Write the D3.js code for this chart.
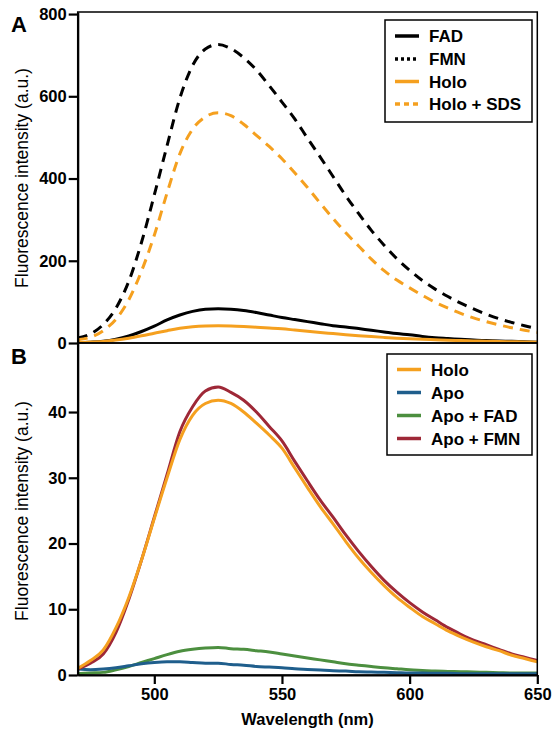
<!DOCTYPE html>
<html>
<head>
<meta charset="utf-8">
<script src="https://cdn.jsdelivr.net/npm/d3@7"></script>
<style>
  body { margin: 0; background: #fff; }
  svg { font-family: "Liberation Sans", Arial, sans-serif; }
  .axis text { font-size: 16.5px; font-weight: bold; fill: #000; }
  .axis path, .axis line { stroke: #000; stroke-width: 2.2px; }
</style>
</head>
<body>
<div id="chart"></div>
<script>
// wavelengths (nm), 5 nm steps
const wavelength = d3.range(470, 651, 5);

// panel A
const fad = [1, 2, 4, 9, 17, 28, 41, 56, 68, 77, 82, 83, 82, 79, 74, 68, 62, 57, 52, 47, 42, 39, 35, 31, 27, 23, 20, 16, 13, 11, 9, 7, 6, 5, 4, 3, 2];
const fmn = [12, 22, 45, 85, 150, 245, 360, 480, 595, 675, 715, 726, 716, 694, 664, 626, 586, 545, 498, 452, 405, 358, 315, 274, 238, 205, 177, 152, 131, 113, 97, 83, 70, 59, 50, 42, 35];
const holoSds = [8, 14, 30, 58, 105, 175, 262, 365, 460, 520, 550, 560, 553, 532, 505, 478, 448, 414, 378, 340, 303, 268, 236, 204, 176, 153, 134, 116, 99, 85, 72, 61, 52, 44, 37, 31, 26];

// panel B
const holo = [1.0, 2.2, 3.8, 7.2, 11.8, 17.5, 23.8, 30.0, 35.8, 39.5, 41.3, 41.8, 41.3, 40.0, 38.3, 36.5, 34.5, 31.5, 28.5, 25.6, 23.0, 20.3, 17.8, 15.6, 13.6, 11.8, 10.3, 8.9, 7.8, 6.7, 5.8, 5.0, 4.3, 3.7, 3.0, 2.5, 2.0];
const apo = [0.9, 0.8, 0.9, 1.1, 1.4, 1.7, 1.9, 2.0, 2.0, 1.9, 1.8, 1.8, 1.6, 1.5, 1.3, 1.2, 1.1, 0.95, 0.85, 0.75, 0.65, 0.6, 0.5, 0.45, 0.4, 0.35, 0.3, 0.3, 0.25, 0.25, 0.2, 0.2, 0.2, 0.2, 0.2, 0.2, 0.2];
const apoFad = [0.2, 0.3, 0.4, 0.8, 1.3, 1.9, 2.5, 3.1, 3.6, 3.9, 4.1, 4.2, 4.0, 3.9, 3.7, 3.5, 3.2, 2.9, 2.6, 2.3, 2.0, 1.7, 1.5, 1.3, 1.1, 0.95, 0.8, 0.7, 0.6, 0.55, 0.5, 0.45, 0.4, 0.35, 0.3, 0.3, 0.3];
const apoFmn = [0.9, 1.8, 3.2, 6.5, 11.5, 17.5, 24.0, 30.5, 37.0, 40.8, 43.2, 43.8, 43.0, 41.8, 40.0, 37.8, 35.6, 32.5, 29.5, 26.6, 24.0, 21.3, 18.8, 16.5, 14.4, 12.6, 11.0, 9.6, 8.4, 7.2, 6.2, 5.3, 4.6, 3.9, 3.2, 2.7, 2.2];

const ticksA = [0, 200, 400, 600, 800];
const ticksB = [0, 10, 20, 30, 40];
const ticksX = [500, 550, 600, 650];

const orange = "#F5A01F", blue = "#1F5E8C", green = "#4C8F3F", red = "#9E2837";

const seriesA = [
  {name: "FAD", values: fad, color: "#000", dash: null, legendDash: null},
  {name: "FMN", values: fmn, color: "#000", dash: "10,7", legendDash: "3,3"},
  {name: "Holo", values: holo, color: orange, dash: null, legendDash: null},
  {name: "Holo + SDS", values: holoSds, color: orange, dash: "10,7", legendDash: "5,4"}
];
const seriesB = [
  {name: "Holo", values: holo, color: orange},
  {name: "Apo", values: apo, color: blue},
  {name: "Apo + FAD", values: apoFad, color: green},
  {name: "Apo + FMN", values: apoFmn, color: red}
];
// draw order in B (back to front)
const drawOrderB = [apoFad, apo, apoFmn, holo].map(v => seriesB.find(s => s.values === v));

const W = 552, H = 731;
const left = 77.7, right = 537.3;

const svg = d3.select("#chart").append("svg")
  .attr("width", W).attr("height", H);

const x = d3.scaleLinear().domain([470, 650]).range([left, right]);
const yA = d3.scaleLinear().domain([0, 805]).range([343, 12]);
const yB = d3.scaleLinear().domain([0, 50.5]).range([675, 343]);

// clip paths
[["clipA", yA], ["clipB", yB]].forEach(([id, y]) => {
  svg.append("clipPath").attr("id", id).append("rect")
    .attr("x", left).attr("y", y.range()[1])
    .attr("width", right - left).attr("height", y.range()[0] - y.range()[1]);
});

function drawPanel(y, series, clip) {
  const line = d3.line().x((d, i) => x(wavelength[i])).y(d => y(d)).curve(d3.curveMonotoneX);
  svg.append("g").attr("clip-path", `url(#${clip})`)
    .selectAll("path")
    .data(series)
    .join("path")
    .attr("d", d => line(d.values))
    .attr("fill", "none")
    .attr("stroke", d => d.color)
    .attr("stroke-width", 3)
    .attr("stroke-dasharray", d => d.dash || null);
  // frame
  svg.append("rect")
    .attr("x", left).attr("y", y.range()[1])
    .attr("width", right - left).attr("height", y.range()[0] - y.range()[1])
    .attr("fill", "none").attr("stroke", "#000").attr("stroke-width", 1.5);
}

drawPanel(yA, seriesA, "clipA");
drawPanel(yB, drawOrderB, "clipB");

// axes
svg.append("g").attr("class", "axis")
  .attr("transform", `translate(${left},0)`)
  .call(d3.axisLeft(yA).tickValues(ticksA).tickSize(9).tickSizeOuter(0).tickPadding(2));
svg.append("g").attr("class", "axis")
  .attr("transform", `translate(${left},0)`)
  .call(d3.axisLeft(yB).tickValues(ticksB).tickSize(9).tickSizeOuter(0).tickPadding(2));
svg.append("g").attr("class", "axis")
  .attr("transform", `translate(0,${yB.range()[0]})`)
  .call(d3.axisBottom(x).tickValues(ticksX).tickSize(9).tickSizeOuter(0).tickPadding(4));

// axis titles
[[yA, 178], [yB, 511]].forEach(([y, cy]) => {
  svg.append("text")
    .attr("transform", `translate(28,${cy}) rotate(-90)`)
    .attr("text-anchor", "middle")
    .attr("font-size", 17.5)
    .text("Fluorescence intensity (a.u.)");
});
svg.append("text")
  .attr("x", (left + right) / 2).attr("y", 725)
  .attr("text-anchor", "middle")
  .attr("font-size", 16.5).attr("font-weight", "bold")
  .text("Wavelength (nm)");

// panel letters
svg.append("text").attr("x", 11).attr("y", 32)
  .attr("font-size", 22).attr("font-weight", "bold").text("A");
svg.append("text").attr("x", 11).attr("y", 364)
  .attr("font-size", 22).attr("font-weight", "bold").text("B");

// legends
function legend(items, x0, y0, w, h, rowY) {
  const g = svg.append("g");
  g.append("rect").attr("x", x0).attr("y", y0).attr("width", w).attr("height", h)
    .attr("fill", "#fff").attr("stroke", "#000").attr("stroke-width", 1.5);
  const row = g.selectAll("g.item").data(items).join("g")
    .attr("class", "item")
    .attr("transform", (d, i) => `translate(0,${rowY[i]})`);
  row.append("line")
    .attr("x1", x0 + 10).attr("x2", x0 + 34)
    .attr("stroke", d => d.color).attr("stroke-width", 3.5)
    .attr("stroke-dasharray", d => d.legendDash || null);
  row.append("text")
    .attr("x", x0 + 44).attr("y", 6)
    .attr("font-size", 17).attr("font-weight", "bold")
    .text(d => d.name);
}
legend(seriesA, 385, 20, 147, 102, [36, 59, 81.5, 104]);
legend(seriesB, 387, 354, 145, 101, [369.5, 392.5, 415.5, 438.5]);
</script>
</body>
</html>
